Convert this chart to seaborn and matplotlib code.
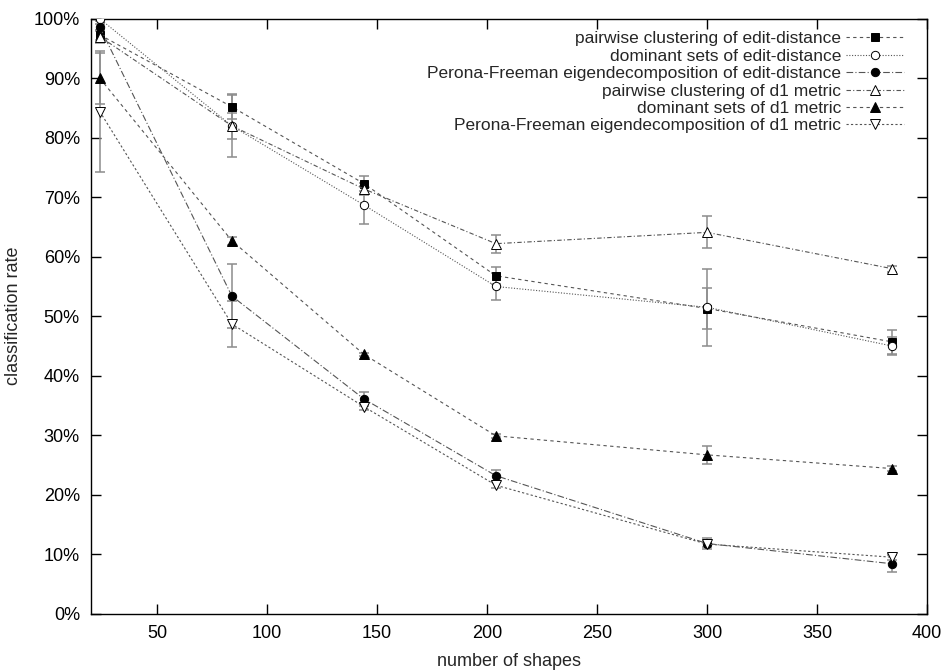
import numpy as np
import pandas as pd
import seaborn as sns
import matplotlib.pyplot as plt
from matplotlib.ticker import FuncFormatter

# number of shapes
shapes = [24, 84, 144, 204, 300, 384]

labels = [
    "pairwise clustering of edit-distance",
    "dominant sets of edit-distance",
    "Perona-Freeman eigendecomposition of edit-distance",
    "pairwise clustering of d1 metric",
    "dominant sets of d1 metric",
    "Perona-Freeman eigendecomposition of d1 metric",
]

# classification rate (%) and error bar half-widths
pc_ed = [97.3, 85.2, 72.3, 56.8, 51.3, 45.7]
pc_ed_err = [0.8, 2.1, 1.3, 1.4, 3.4, 2.0]
ds_ed = [100.0, 82.0, 68.7, 55.0, 51.5, 45.0]
ds_ed_err = [0.3, 5.2, 3.2, 2.3, 6.5, 1.5]
pf_ed = [98.6, 53.4, 36.1, 23.2, 11.8, 8.4]
pf_ed_err = [0.5, 5.3, 1.2, 0.9, 1.0, 1.4]
pc_d1 = [97.0, 82.0, 71.4, 62.2, 64.1, 58.0]
pc_d1_err = [1.0, 2.2, 1.0, 1.5, 2.7, 0.5]
ds_d1 = [90.0, 62.7, 43.6, 29.9, 26.7, 24.4]
ds_d1_err = [4.3, 0.7, 0.3, 0.3, 1.5, 0.4]
pf_d1 = [84.4, 48.7, 34.8, 21.6, 11.7, 9.5]
pf_d1_err = [10.2, 3.8, 0.6, 0.5, 0.5, 0.5]

series = [pc_ed, ds_ed, pf_ed, pc_d1, ds_d1, pf_d1]
errors = [pc_ed_err, ds_ed_err, pf_ed_err, pc_d1_err, ds_d1_err, pf_d1_err]

# gnuplot-ish styles: marker, filled?, dash pattern
styles = [
    ("s", True, (0, (3, 3))),
    ("o", False, (0, (1, 1.5))),
    ("o", True, (0, (6, 2, 1, 2))),
    ("^", False, (0, (4, 2, 1, 2))),
    ("^", True, (0, (3, 3))),
    ("v", False, (0, (2, 2))),
]

sns.set_style("ticks")
plt.rcParams['font.family'] = ['Liberation Sans', 'DejaVu Sans']
fs = 12.5

fig, ax = plt.subplots(figsize=(9.48, 6.70), dpi=100)
fig.subplots_adjust(left=0.096, right=0.978, top=0.972, bottom=0.084)

for lab, vals, err, (mk, filled, ls) in zip(labels, series, errors, styles):
    df = pd.DataFrame({"shapes": shapes, "rate": vals})
    ax.errorbar(df["shapes"], df["rate"], yerr=err, fmt="none", ecolor="#8c8c8c",
                elinewidth=1.1, capsize=3.3, capthick=1.1, zorder=1)
    sns.lineplot(data=df, x="shapes", y="rate", ax=ax, label=lab,
                 color="#555555", linewidth=0.8, linestyle=ls,
                 marker=mk, markersize=6 if mk in ("s", "o") else 6.5,
                 markerfacecolor="black" if filled else "white",
                 markeredgecolor="black", markeredgewidth=0.7, zorder=3)

ax.set_xlim(20, 400)
ax.set_ylim(0, 100)
ax.set_xticks(np.arange(50, 401, 50))
ax.set_yticks(np.arange(0, 101, 10))
ax.yaxis.set_major_formatter(FuncFormatter(lambda v, p: f"{int(v)}%"))
ax.tick_params(direction="in", length=7, width=1, top=True, right=True,
               labelsize=13, colors="black", pad=8)
for sp in ax.spines.values():
    sp.set_visible(True)
    sp.set_linewidth(1.0)
    sp.set_color("black")

ax.set_xlabel("number of shapes", fontsize=13)
ax.set_ylabel("classification rate", fontsize=13)
ax.xaxis.set_label_coords(0.5, -0.066)
ax.yaxis.set_label_coords(-0.083, 0.5)

leg = ax.legend(loc="upper right", bbox_to_anchor=(0.972, 0.979), frameon=False,
                markerfirst=False, handlelength=3.3, handletextpad=0.3,
                fontsize=fs, labelspacing=0.13, borderaxespad=0, borderpad=0)
for t in leg.get_texts():
    t.set_ha("right")
leg._legend_box.align = "right"

fig.savefig("out.png", dpi=100)
